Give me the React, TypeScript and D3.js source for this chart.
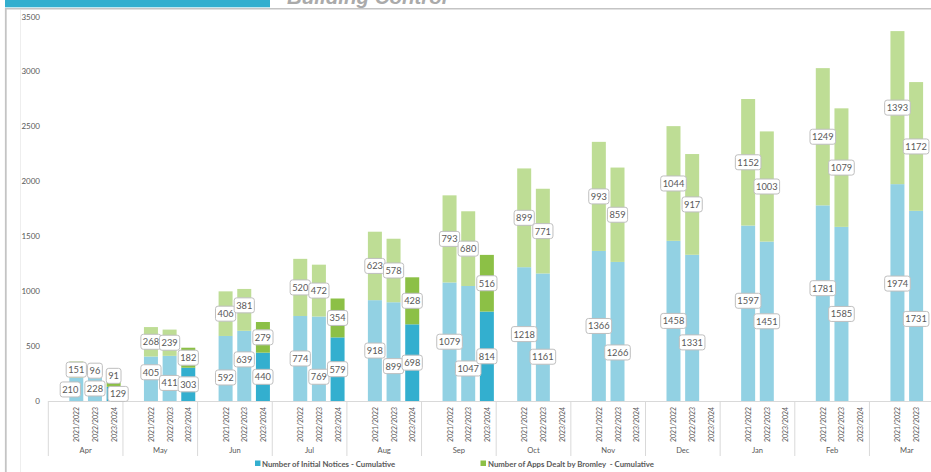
import React from "react";
import * as d3 from "d3";

const months = ["Apr", "May", "Jun", "Jul", "Aug", "Sep", "Oct", "Nov", "Dec", "Jan", "Feb", "Mar"];
const years = ["2021/2022", "2022/2023", "2023/2024"];
const slots = ["", ...years];

const notices2122 = [210, 405, 592, 774, 918, 1079, 1218, 1366, 1458, 1597, 1781, 1974];
const apps2122 = [151, 268, 406, 520, 623, 793, 899, 993, 1044, 1152, 1249, 1393];
const notices2223 = [228, 411, 639, 769, 899, 1047, 1161, 1266, 1331, 1451, 1585, 1731];
const apps2223 = [96, 239, 381, 472, 578, 680, 771, 859, 917, 1003, 1079, 1172];
const notices2324: (number | null)[] = [129, 303, 440, 579, 698, 814, null, null, null, null, null, null];
const apps2324: (number | null)[] = [91, 182, 279, 354, 428, 516, null, null, null, null, null, null];

const yTicks = [0, 500, 1000, 1500, 2000, 2500, 3000, 3500];
const legendLabels = ["Number of Initial Notices - Cumulative", "Number of Apps Dealt by Bromley  - Cumulative"];

// label nudges (px), keyed by month|yearIndex|series (n = notices, a = apps)
const labelNudge: Record<string, [number, number]> = {
  "Apr|0|n": [-6, 0],
  "Apr|2|n": [4.5, 0],
  "Apr|2|a": [0, -6],
  "May|0|n": [0, -6.5],
  "May|1|n": [0, 4.5],
  "Jun|0|n": [0, 9],
  "Jun|1|n": [0, -6.5],
  "Jun|1|a": [0, -4.5],
  "Jul|1|n": [0, 18],
  "Aug|1|n": [0, 14.5],
  "Sep|1|n": [0, 25],
  "Oct|1|n": [0, 19.5],
  "Nov|1|n": [0, 21],
  "Dec|1|n": [0, 14.5],
  "Jan|0|n": [0, -12.5],
  "Feb|0|n": [0, -15],
  "Mar|0|n": [0, -9],
  "Mar|1|n": [0, 13],
};

const W = 931;
const H = 472;
const LIGHT_BLUE = "#92D1E3";
const DARK_BLUE = "#33AFCF";
const LIGHT_GREEN = "#BEDD95";
const DARK_GREEN = "#8CC046";
const TEXT = "#595959";
const FONT = "Lato, 'Open Sans', sans-serif";

export default function App() {
  const x0 = 48.3;
  const monthW = 74.65;
  const xMonth = d3.scaleBand<string>().domain(months).range([x0, x0 + monthW * months.length]).padding(0);
  const xSlot = d3.scaleBand<string>().domain(slots).range([0, xMonth.bandwidth()]).paddingInner(0.25).paddingOuter(0.125);
  const y = d3.scaleLinear().domain([0, 3500]).range([401, 16.5]);

  const noticeSeries = [notices2122, notices2223, notices2324];
  const appSeries = [apps2122, apps2223, apps2324];

  const bars: React.ReactNode[] = [];
  const labels: React.ReactNode[] = [];
  const digitW = 5.4;
  const fs = 9.3;

  const addLabel = (key: string, cx: number, cy: number, v: number) => {
    const nd = labelNudge[key] || [0, 0];
    const tx = cx + nd[0];
    const ty = cy + nd[1];
    const str = String(v);
    const bw = str.length * digitW + 4;
    const bh = 15;
    labels.push(
      <g key={"l" + key}>
        <rect x={tx - bw / 2} y={ty - bh / 2} width={bw} height={bh} rx={2.5} fill="#fff" stroke="#bfbfbf" strokeWidth={1} />
        <text x={tx} y={ty} textAnchor="middle" dominantBaseline="central" fontSize={fs} fill={TEXT} fontFamily={FONT}>
          {str}
        </text>
      </g>
    );
  };

  months.forEach((m, mi) => {
    years.forEach((yr, yi) => {
      const n = noticeSeries[yi][mi];
      const a = appSeries[yi][mi];
      if (n == null || a == null) return;
      const bx = (xMonth(m) as number) + (xSlot(yr) as number);
      const bw = xSlot.bandwidth();
      const cx = bx + bw / 2;
      const dark = yi === 2;
      bars.push(
        <rect key={`n${m}${yi}`} x={bx} y={y(n)} width={bw} height={y(0) - y(n)} fill={dark ? DARK_BLUE : LIGHT_BLUE} />,
        <rect key={`a${m}${yi}`} x={bx} y={y(n + a)} width={bw} height={y(n) - y(n + a)} fill={dark ? DARK_GREEN : LIGHT_GREEN} />
      );
      addLabel(`${m}|${yi}|n`, cx, y(n / 2), n);
      addLabel(`${m}|${yi}|a`, cx, y(n + a / 2), a);
    });
  });

  return (
    <svg width={W} height={H} style={{ position: "absolute", left: 0, top: 0, background: "#fff" }}>
      {/* header */}
      <rect x={5} y={0} width={265} height={7.3} fill={DARK_BLUE} />
      <text x={287} y={4} fontSize={20.5} fontWeight="bold" fontStyle="italic" fill="#aaaaaa" fontFamily="'Liberation Sans', Arial, sans-serif">
        Building Control
      </text>
      <line x1={5} x2={W} y1={8.8} y2={8.8} stroke="#c4c4c4" strokeWidth={1.6} />
      <line x1={5.8} x2={5.8} y1={8} y2={H} stroke="#c4c4c4" strokeWidth={1.8} />
      <line x1={20.5} x2={20.5} y1={10} y2={H} stroke="#eeeeee" strokeWidth={1} />

      {/* y tick labels */}
      {yTicks.map((t) => (
        <text key={t} x={40} y={y(t)} textAnchor="end" dominantBaseline="central" fontSize={8} fill={TEXT} fontFamily={FONT}>
          {t}
        </text>
      ))}

      {/* bars */}
      {bars}

      {/* category axis */}
      <line x1={x0} x2={W} y1={401.5} y2={401.5} stroke="#d9d9d9" strokeWidth={1} />
      {months.map((m) => (
        <line key={"sep" + m} x1={(xMonth(m) as number)} x2={(xMonth(m) as number)} y1={401} y2={456} stroke="#d9d9d9" strokeWidth={1} />
      ))}
      {months.map((m) =>
        years.map((yr) => {
          const cx = (xMonth(m) as number) + (xSlot(yr) as number) + xSlot.bandwidth() / 2;
          if (cx > W - 6) return null;
          return (
            <text
              key={"yl" + m + yr}
              transform={`translate(${cx},407) rotate(-90)`}
              textAnchor="end"
              dominantBaseline="central"
              fontSize={6.9}
              fill={TEXT}
              fontFamily={FONT}
            >
              {yr}
            </text>
          );
        })
      )}
      {months.map((m) => (
        <text key={"ml" + m} x={(xMonth(m) as number) + xMonth.bandwidth() / 2} y={450} textAnchor="middle" dominantBaseline="central" fontSize={7.6} fill={TEXT} fontFamily={FONT}>
          {m}
        </text>
      ))}

      {/* labels */}
      {labels}

      {/* legend */}
      <rect x={255} y={460.5} width={5.5} height={5.5} fill={DARK_BLUE} />
      <text x={262} y={463.5} dominantBaseline="central" fontSize={7.8} fontWeight="bold" fill={TEXT} fontFamily={FONT}>
        {legendLabels[0]}
      </text>
      <rect x={480.5} y={460.5} width={5.5} height={5.5} fill={DARK_GREEN} />
      <text x={488} y={463.5} dominantBaseline="central" fontSize={7.8} fontWeight="bold" fill={TEXT} fontFamily={FONT} style={{ whiteSpace: "pre" }}>
        {legendLabels[1]}
      </text>
    </svg>
  );
}
